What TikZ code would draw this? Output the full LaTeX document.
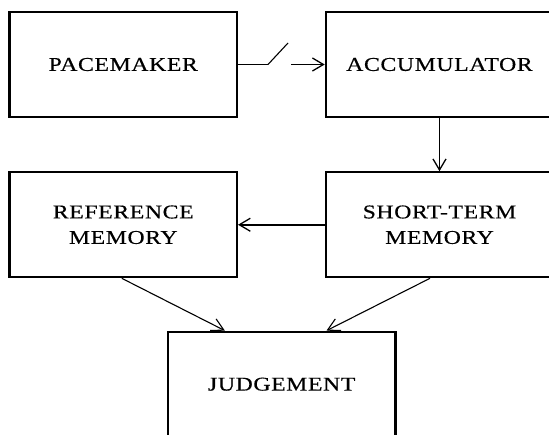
\documentclass[tikz,border=0pt]{standalone}
\usepackage{fontspec}
\usetikzlibrary{arrows.meta}
\newfontfamily\boxfont[FakeStretch=1.22,LetterSpace=3,FakeBold=0.4]{Liberation Serif}
\begin{document}
\begin{tikzpicture}[x=1pt,y=-1pt,
  box/.style={draw,line width=2.1pt,minimum width=227.5pt,minimum height=105pt,
    align=center,font=\boxfont\fontsize{19.5}{25.5}\selectfont,inner sep=0pt},
  conn/.style={line width=1.7pt,-{Straight Barb[length=11pt,width=13pt,line width=1.3pt]}},
  thin/.style={line width=1.1pt,-{Straight Barb[length=12pt,width=13pt,line width=1.1pt]}}]
\useasboundingbox (0,0) rectangle (549,434);
\node[box] (pm) at (123.25,64.5) {PACEMAKER};
\node[box] (acc) at (439.5,64.5) {ACCUMULATOR};
\node[box] (ref) at (123.25,224.75) {REFERENCE\\MEMORY};
\node[box] (st) at (439.5,224.75) {SHORT-TERM\\MEMORY};
\node[box] (jd) at (281.7,384.2) {JUDGEMENT};
\coordinate (sw1) at (268,64.5);
\coordinate (sw2) at (288,43);
\coordinate (sw3) at (291,64.5);
\draw[line width=1.6pt] (pm.east) -- (sw1);
\draw[line width=1.1pt] (sw1) -- (sw2);
\draw[conn] (sw3) -- (acc.west);
\draw[conn] (acc.south) -- (st.north);
\draw[conn] (st.west) -- (ref.east);
\draw[thin] ([xshift=-1.5pt]ref.south) -- ([xshift=58pt]jd.north west);
\draw[thin] ([xshift=-9.5pt]st.south) -- ([xshift=-70pt]jd.north east);
\end{tikzpicture}
\end{document}
